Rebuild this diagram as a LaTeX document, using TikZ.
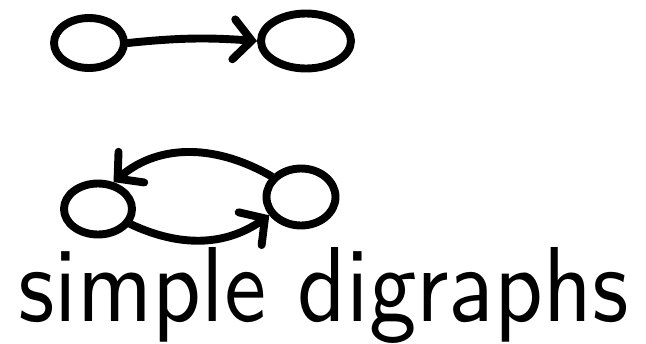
\documentclass[tikz,border=0pt]{standalone}
\usepackage{graphicx}
\usepackage{tikz}
\usetikzlibrary{shapes.geometric,arrows.meta,positioning,calc}

\begin{document}
\begin{tikzpicture}[
    vtx/.style={ellipse, draw=black, line width=4.5pt, inner sep=0pt},
    arr/.style={-{Straight Barb[length=0.36cm, width=0.8cm, line cap=round]}, line width=4.5pt, line cap=round, draw=black}
]
    \useasboundingbox (0,0) rectangle (12.92,6.86);

    % top: one edge
    \node [vtx, minimum width=1.4cm, minimum height=1.0cm] (v1) at (1.78,6.0) {};
    \node [vtx, minimum width=1.8cm, minimum height=1.1cm] (v2) at (6.12,6.04) {};

    % bottom: two opposite edges
    \node [vtx, minimum width=1.36cm, minimum height=1.02cm] (v3) at (1.96,2.68) {};
    \node [vtx, minimum width=1.38cm, minimum height=1.14cm] (v4) at (6.02,2.92) {};

    \draw [arr] (v1.east) to[bend left=5] (v2.west);
    \draw [arr] (v4.145) to[out=150, in=40] (v3.60);
    \draw [arr] (v3.-25) to[out=-25, in=215] (v4.210);

    \node [inner sep=0pt] (cap) at (6.47,0.96) {\resizebox{12.2cm}{1.48cm}{\sffamily simple digraphs}};
\end{tikzpicture}
\end{document}
